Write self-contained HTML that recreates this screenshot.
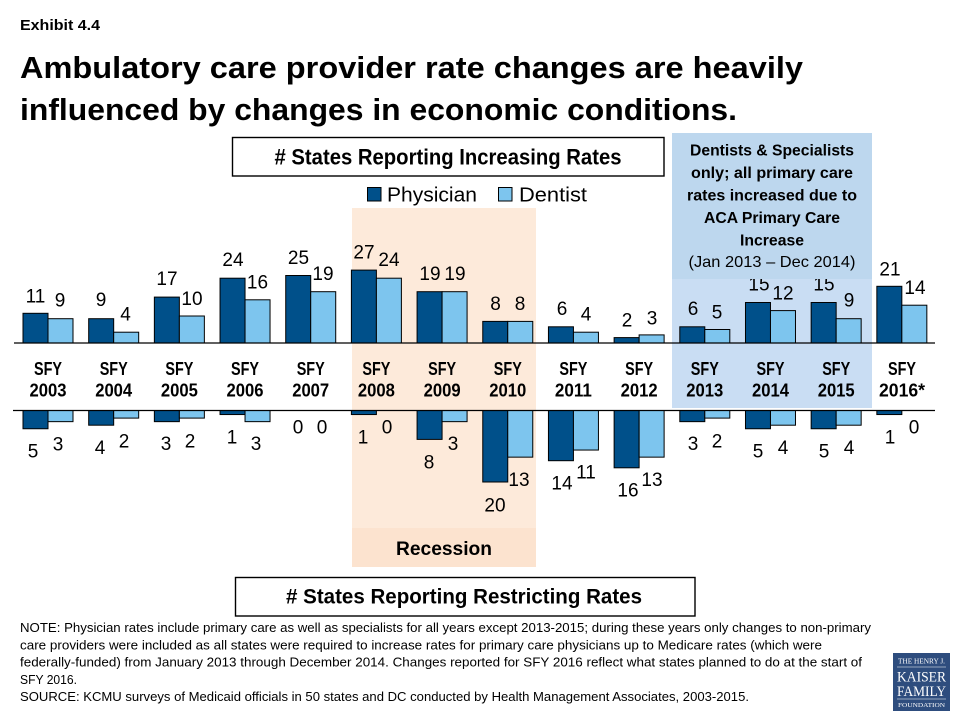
<!DOCTYPE html>
<html><head><meta charset="utf-8"><style>
html,body{margin:0;padding:0;background:#fff;}
svg{display:block;}
text{font-family:"Liberation Sans",sans-serif;fill:#000;}
.b{font-weight:bold;}
.lbl{font-size:19px;text-anchor:middle;}
.yr{font-size:18px;font-weight:bold;text-anchor:middle;}
.bx{font-size:16px;font-weight:bold;text-anchor:middle;}
.nt{font-size:12.5px;}
.lg{font-family:"Liberation Serif",serif;fill:#fff;text-anchor:middle;}
</style></head><body>
<svg width="960" height="720" viewBox="0 0 960 720" xmlns="http://www.w3.org/2000/svg">
<rect width="960" height="720" fill="#fff"/>
<!-- Title -->
<text x="20" y="30" class="b" font-size="15" textLength="80" lengthAdjust="spacingAndGlyphs">Exhibit 4.4</text>
<text x="20" y="78" class="b" font-size="31" textLength="783" lengthAdjust="spacingAndGlyphs">Ambulatory care provider rate changes are heavily</text>
<text x="20" y="120" class="b" font-size="31" textLength="717" lengthAdjust="spacingAndGlyphs">influenced by changes in economic conditions.</text>

<!-- Recession band -->
<rect x="352" y="208" width="184" height="320" fill="#FDEADA"/>
<rect x="352" y="528" width="184" height="39" fill="#FCE3CF"/>
<text x="444" y="555" class="b" font-size="19" text-anchor="middle" textLength="96" lengthAdjust="spacingAndGlyphs">Recession</text>

<!-- Blue box lower -->
<rect x="672" y="279" width="200" height="129" fill="#C9DDF3"/>

<!-- Header box -->
<rect x="232.5" y="137.5" width="431.5" height="38.5" fill="#fff" stroke="#000" stroke-width="1.4"/>
<text x="448" y="164.3" class="b" font-size="22" text-anchor="middle" textLength="347" lengthAdjust="spacingAndGlyphs"># States Reporting Increasing Rates</text>

<!-- Legend -->
<rect x="367.5" y="187.5" width="13.5" height="13.5" fill="#00508A" stroke="#000" stroke-width="1"/>
<text x="387" y="201.7" font-size="20" textLength="90" lengthAdjust="spacingAndGlyphs">Physician</text>
<rect x="498.5" y="187.5" width="13.5" height="13.5" fill="#7DC5EE" stroke="#000" stroke-width="1"/>
<text x="519" y="201.7" font-size="20" textLength="68" lengthAdjust="spacingAndGlyphs">Dentist</text>

<!-- Upper bars -->
<g stroke="#000" stroke-width="1">
<rect x="23" y="313.3" width="25" height="29.7" fill="#00508A"/><rect x="48" y="318.7" width="25" height="24.3" fill="#7DC5EE"/>
<rect x="88.68" y="318.7" width="25" height="24.3" fill="#00508A"/><rect x="113.68" y="332.2" width="25" height="10.8" fill="#7DC5EE"/>
<rect x="154.36" y="297.1" width="25" height="45.9" fill="#00508A"/><rect x="179.36" y="316" width="25" height="27" fill="#7DC5EE"/>
<rect x="220.04" y="278.2" width="25" height="64.8" fill="#00508A"/><rect x="245.04" y="299.8" width="25" height="43.2" fill="#7DC5EE"/>
<rect x="285.72" y="275.5" width="25" height="67.5" fill="#00508A"/><rect x="310.72" y="291.7" width="25" height="51.3" fill="#7DC5EE"/>
<rect x="351.4" y="270.1" width="25" height="72.9" fill="#00508A"/><rect x="376.4" y="278.2" width="25" height="64.8" fill="#7DC5EE"/>
<rect x="417.08" y="291.7" width="25" height="51.3" fill="#00508A"/><rect x="442.08" y="291.7" width="25" height="51.3" fill="#7DC5EE"/>
<rect x="482.76" y="321.4" width="25" height="21.6" fill="#00508A"/><rect x="507.76" y="321.4" width="25" height="21.6" fill="#7DC5EE"/>
<rect x="548.44" y="326.8" width="25" height="16.2" fill="#00508A"/><rect x="573.44" y="332.2" width="25" height="10.8" fill="#7DC5EE"/>
<rect x="614.12" y="337.6" width="25" height="5.4" fill="#00508A"/><rect x="639.12" y="334.9" width="25" height="8.1" fill="#7DC5EE"/>
<rect x="679.8" y="326.8" width="25" height="16.2" fill="#00508A"/><rect x="704.8" y="329.5" width="25" height="13.5" fill="#7DC5EE"/>
<rect x="745.48" y="302.5" width="25" height="40.5" fill="#00508A"/><rect x="770.48" y="310.6" width="25" height="32.4" fill="#7DC5EE"/>
<rect x="811.16" y="302.5" width="25" height="40.5" fill="#00508A"/><rect x="836.16" y="318.7" width="25" height="24.3" fill="#7DC5EE"/>
<rect x="876.84" y="286.3" width="25" height="56.7" fill="#00508A"/><rect x="901.84" y="305.2" width="25" height="37.8" fill="#7DC5EE"/>
</g>

<!-- Lower bars -->
<g stroke="#000" stroke-width="1">
<rect x="23" y="410.5" width="25" height="18.25" fill="#00508A"/><rect x="48" y="410.5" width="25" height="11.15" fill="#7DC5EE"/>
<rect x="88.68" y="410.5" width="25" height="14.7" fill="#00508A"/><rect x="113.68" y="410.5" width="25" height="7.6" fill="#7DC5EE"/>
<rect x="154.36" y="410.5" width="25" height="11.15" fill="#00508A"/><rect x="179.36" y="410.5" width="25" height="7.6" fill="#7DC5EE"/>
<rect x="220.04" y="410.5" width="25" height="4.05" fill="#00508A"/><rect x="245.04" y="410.5" width="25" height="11.15" fill="#7DC5EE"/>
<rect x="351.4" y="410.5" width="25" height="4.05" fill="#00508A"/>
<rect x="417.08" y="410.5" width="25" height="28.9" fill="#00508A"/><rect x="442.08" y="410.5" width="25" height="11.15" fill="#7DC5EE"/>
<rect x="482.76" y="410.5" width="25" height="71.5" fill="#00508A"/><rect x="507.76" y="410.5" width="25" height="46.65" fill="#7DC5EE"/>
<rect x="548.44" y="410.5" width="25" height="50.2" fill="#00508A"/><rect x="573.44" y="410.5" width="25" height="39.55" fill="#7DC5EE"/>
<rect x="614.12" y="410.5" width="25" height="57.3" fill="#00508A"/><rect x="639.12" y="410.5" width="25" height="46.65" fill="#7DC5EE"/>
<rect x="679.8" y="410.5" width="25" height="11.15" fill="#00508A"/><rect x="704.8" y="410.5" width="25" height="7.6" fill="#7DC5EE"/>
<rect x="745.48" y="410.5" width="25" height="18.25" fill="#00508A"/><rect x="770.48" y="410.5" width="25" height="14.7" fill="#7DC5EE"/>
<rect x="811.16" y="410.5" width="25" height="18.25" fill="#00508A"/><rect x="836.16" y="410.5" width="25" height="14.7" fill="#7DC5EE"/>
<rect x="876.84" y="410.5" width="25" height="4.05" fill="#00508A"/>
</g>

<!-- Baselines -->
<line x1="14" y1="343" x2="935" y2="343" stroke="#000" stroke-width="1.3"/>
<line x1="13" y1="410.5" x2="935" y2="410.5" stroke="#000" stroke-width="1.3"/>

<!-- Upper labels -->
<g class="lbl">
<text x="35.5" y="302.3" class="lbl">11</text><text x="60" y="306.7" class="lbl">9</text>
<text x="101" y="306" class="lbl">9</text><text x="125.5" y="320.7" class="lbl">4</text>
<text x="167" y="285" class="lbl">17</text><text x="192" y="305" class="lbl">10</text>
<text x="233" y="266" class="lbl">24</text><text x="257.5" y="288.3" class="lbl">16</text>
<text x="298.5" y="264" class="lbl">25</text><text x="323" y="280" class="lbl">19</text>
<text x="364" y="258.3" class="lbl">27</text><text x="389" y="266" class="lbl">24</text>
<text x="430" y="280" class="lbl">19</text><text x="455" y="280" class="lbl">19</text>
<text x="495.5" y="310" class="lbl">8</text><text x="520" y="310" class="lbl">8</text>
<text x="562" y="315" class="lbl">6</text><text x="586" y="320.7" class="lbl">4</text>
<text x="627" y="326.7" class="lbl">2</text><text x="652" y="324.3" class="lbl">3</text>
<text x="693" y="315" class="lbl">6</text><text x="717" y="318.3" class="lbl">5</text>
<text x="759" y="290.7" class="lbl">15</text><text x="783" y="299.3" class="lbl">12</text>
<text x="824" y="290.7" class="lbl">15</text><text x="849" y="306.7" class="lbl">9</text>
<text x="890" y="275.3" class="lbl">21</text><text x="915" y="294" class="lbl">14</text>
</g>

<!-- Lower labels -->
<g>
<text x="33" y="457.3" class="lbl">5</text><text x="58" y="450.7" class="lbl">3</text>
<text x="100" y="454" class="lbl">4</text><text x="124" y="447.3" class="lbl">2</text>
<text x="166" y="450" class="lbl">3</text><text x="190" y="447.3" class="lbl">2</text>
<text x="232" y="443.3" class="lbl">1</text><text x="256" y="450" class="lbl">3</text>
<text x="298" y="433.3" class="lbl">0</text><text x="322" y="433.3" class="lbl">0</text>
<text x="363" y="443.3" class="lbl">1</text><text x="387" y="433.3" class="lbl">0</text>
<text x="429" y="468.3" class="lbl">8</text><text x="453" y="450" class="lbl">3</text>
<text x="495" y="511.7" class="lbl">20</text><text x="519" y="486" class="lbl">13</text>
<text x="562" y="489.3" class="lbl">14</text><text x="586" y="478.7" class="lbl">11</text>
<text x="628" y="496.7" class="lbl">16</text><text x="652" y="486" class="lbl">13</text>
<text x="693" y="450" class="lbl">3</text><text x="717" y="447.3" class="lbl">2</text>
<text x="758" y="457.3" class="lbl">5</text><text x="783" y="454" class="lbl">4</text>
<text x="824" y="457.3" class="lbl">5</text><text x="849" y="454" class="lbl">4</text>
<text x="890" y="443.3" class="lbl">1</text><text x="914" y="433.3" class="lbl">0</text>
</g>

<!-- Year labels -->
<g>
<text x="48" y="375" class="yr" textLength="28" lengthAdjust="spacingAndGlyphs">SFY</text><text x="48" y="396.7" class="yr" textLength="37" lengthAdjust="spacingAndGlyphs">2003</text>
<text x="113.7" y="375" class="yr" textLength="28" lengthAdjust="spacingAndGlyphs">SFY</text><text x="113.7" y="396.7" class="yr" textLength="37" lengthAdjust="spacingAndGlyphs">2004</text>
<text x="179.4" y="375" class="yr" textLength="28" lengthAdjust="spacingAndGlyphs">SFY</text><text x="179.4" y="396.7" class="yr" textLength="37" lengthAdjust="spacingAndGlyphs">2005</text>
<text x="245" y="375" class="yr" textLength="28" lengthAdjust="spacingAndGlyphs">SFY</text><text x="245" y="396.7" class="yr" textLength="37" lengthAdjust="spacingAndGlyphs">2006</text>
<text x="310.7" y="375" class="yr" textLength="28" lengthAdjust="spacingAndGlyphs">SFY</text><text x="310.7" y="396.7" class="yr" textLength="37" lengthAdjust="spacingAndGlyphs">2007</text>
<text x="376.4" y="375" class="yr" textLength="28" lengthAdjust="spacingAndGlyphs">SFY</text><text x="376.4" y="396.7" class="yr" textLength="37" lengthAdjust="spacingAndGlyphs">2008</text>
<text x="442.1" y="375" class="yr" textLength="28" lengthAdjust="spacingAndGlyphs">SFY</text><text x="442.1" y="396.7" class="yr" textLength="37" lengthAdjust="spacingAndGlyphs">2009</text>
<text x="507.8" y="375" class="yr" textLength="28" lengthAdjust="spacingAndGlyphs">SFY</text><text x="507.8" y="396.7" class="yr" textLength="37" lengthAdjust="spacingAndGlyphs">2010</text>
<text x="573.4" y="375" class="yr" textLength="28" lengthAdjust="spacingAndGlyphs">SFY</text><text x="573.4" y="396.7" class="yr" textLength="37" lengthAdjust="spacingAndGlyphs">2011</text>
<text x="639.1" y="375" class="yr" textLength="28" lengthAdjust="spacingAndGlyphs">SFY</text><text x="639.1" y="396.7" class="yr" textLength="37" lengthAdjust="spacingAndGlyphs">2012</text>
<text x="704.8" y="375" class="yr" textLength="28" lengthAdjust="spacingAndGlyphs">SFY</text><text x="704.8" y="396.7" class="yr" textLength="37" lengthAdjust="spacingAndGlyphs">2013</text>
<text x="770.5" y="375" class="yr" textLength="28" lengthAdjust="spacingAndGlyphs">SFY</text><text x="770.5" y="396.7" class="yr" textLength="37" lengthAdjust="spacingAndGlyphs">2014</text>
<text x="836.2" y="375" class="yr" textLength="28" lengthAdjust="spacingAndGlyphs">SFY</text><text x="836.2" y="396.7" class="yr" textLength="37" lengthAdjust="spacingAndGlyphs">2015</text>
<text x="902" y="375" class="yr" textLength="28" lengthAdjust="spacingAndGlyphs">SFY</text><text x="902" y="396.7" class="yr" textLength="46" lengthAdjust="spacingAndGlyphs">2016*</text>
</g>

<!-- Blue box upper (covers tops of 15 labels) -->
<rect x="672" y="133" width="200" height="146" fill="#BDD7EE"/>
<text x="772" y="155.5" class="bx" textLength="164" lengthAdjust="spacingAndGlyphs">Dentists &amp; Specialists</text>
<text x="772" y="178" class="bx" textLength="162" lengthAdjust="spacingAndGlyphs">only; all primary care</text>
<text x="772" y="200.3" class="bx" textLength="170" lengthAdjust="spacingAndGlyphs">rates increased due to</text>
<text x="772" y="223" class="bx" textLength="136" lengthAdjust="spacingAndGlyphs">ACA Primary Care</text>
<text x="772" y="245.3" class="bx" textLength="64" lengthAdjust="spacingAndGlyphs">Increase</text>
<text x="772" y="267" font-size="16" text-anchor="middle" textLength="167" lengthAdjust="spacingAndGlyphs">(Jan 2013 – Dec 2014)</text>

<!-- Bottom header box -->
<rect x="235.5" y="577.5" width="459.5" height="38.5" fill="#fff" stroke="#000" stroke-width="1.4"/>
<text x="464" y="603.3" class="b" font-size="21" text-anchor="middle" textLength="356" lengthAdjust="spacingAndGlyphs"># States Reporting Restricting Rates</text>

<!-- Notes -->
<text x="20" y="632" class="nt" textLength="851" lengthAdjust="spacingAndGlyphs">NOTE: Physician rates include primary care as well as specialists for all years except 2013-2015; during these years only changes to non-primary</text>
<text x="20" y="649.3" class="nt" textLength="802" lengthAdjust="spacingAndGlyphs">care providers were included as all states were required to increase rates for primary care physicians up to Medicare rates (which were</text>
<text x="20" y="666.7" class="nt" textLength="842" lengthAdjust="spacingAndGlyphs">federally-funded) from January 2013 through December 2014. Changes reported for SFY 2016 reflect what states planned to do at the start of</text>
<text x="20" y="684" class="nt" textLength="57" lengthAdjust="spacingAndGlyphs">SFY 2016.</text>
<text x="20" y="701" class="nt" textLength="729" lengthAdjust="spacingAndGlyphs">SOURCE: KCMU surveys of Medicaid officials in 50 states and DC conducted by Health Management Associates, 2003-2015.</text>

<!-- Logo -->
<rect x="893" y="653" width="57" height="58" fill="#2E4D7E"/>
<text x="921.5" y="663.5" class="lg" font-size="7" textLength="47" lengthAdjust="spacingAndGlyphs">THE HENRY J.</text>
<line x1="897" y1="667" x2="946" y2="667" stroke="#fff" stroke-width="0.6"/>
<text x="921.5" y="681.5" class="lg" font-size="15" textLength="49" lengthAdjust="spacingAndGlyphs">KAISER</text>
<text x="921.5" y="696" class="lg" font-size="15" textLength="49" lengthAdjust="spacingAndGlyphs">FAMILY</text>
<line x1="897" y1="699" x2="946" y2="699" stroke="#fff" stroke-width="0.6"/>
<text x="921.5" y="707" class="lg" font-size="6" textLength="47" lengthAdjust="spacingAndGlyphs">FOUNDATION</text>
</svg>
</body></html>
